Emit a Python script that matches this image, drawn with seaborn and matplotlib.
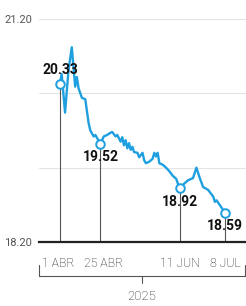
import matplotlib
matplotlib.use("Agg")
import matplotlib.pyplot as plt
from matplotlib.lines import Line2D
from matplotlib.transforms import Affine2D, ScaledTranslation
import pandas as pd
import seaborn as sns

# serie diaria
dates = ["2025-04-01", "2025-04-02", "2025-04-04", "2025-04-06", "2025-04-08",
         "2025-04-10", "2025-04-11", "2025-04-12", "2025-04-14", "2025-04-16",
         "2025-04-18", "2025-04-19", "2025-04-21", "2025-04-22", "2025-04-23",
         "2025-04-25", "2025-04-27", "2025-04-29", "2025-05-01", "2025-05-02",
         "2025-05-04", "2025-05-05", "2025-05-07", "2025-05-08", "2025-05-09",
         "2025-05-10", "2025-05-11", "2025-05-12", "2025-05-13", "2025-05-14",
         "2025-05-15", "2025-05-17", "2025-05-18", "2025-05-20", "2025-05-21",
         "2025-05-22", "2025-05-24", "2025-05-26", "2025-05-27", "2025-05-28",
         "2025-05-29", "2025-05-30", "2025-06-01", "2025-06-03", "2025-06-05",
         "2025-06-07", "2025-06-09", "2025-06-11", "2025-06-14", "2025-06-16",
         "2025-06-19", "2025-06-21", "2025-06-23", "2025-06-25", "2025-06-28",
         "2025-07-01", "2025-07-02", "2025-07-03", "2025-07-06", "2025-07-08"]
values = [20.33, 20.46, 19.94, 20.50, 20.82,
          20.29, 20.42, 20.27, 20.14, 20.12,
          19.80, 19.70, 19.62, 19.64, 19.60,
          19.52, 19.62, 19.64, 19.67, 19.68,
          19.62, 19.64, 19.55, 19.61, 19.50,
          19.57, 19.46, 19.53, 19.44, 19.48,
          19.41, 19.40, 19.34, 19.40, 19.30,
          19.26, 19.28, 19.32, 19.40, 19.35,
          19.40, 19.26, 19.24, 19.20, 19.15,
          19.09, 19.05, 18.92, 18.99, 19.03,
          19.06, 19.20, 19.06, 18.94, 18.90,
          18.81, 18.74, 18.76, 18.66, 18.59]

marked_dates = ["2025-04-01", "2025-04-25", "2025-06-11", "2025-07-08"]
marked_values = [20.33, 19.52, 18.92, 18.59]
marked_labels = ["20.33", "19.52", "18.92", "18.59"]
tick_labels = ["1 ABR", "25 ABR", "11 JUN", "8 JUL"]
y_ticks = [18.2, 19.2, 20.2, 21.2]
y_labels = ["18.20", "", "", "21.20"]
year_label = "2025"

df = pd.DataFrame({"fecha": pd.to_datetime(dates), "valor": values})
pts = pd.DataFrame({"fecha": pd.to_datetime(marked_dates), "valor": marked_values})

sns.set_style("white")
plt.rcParams["font.family"] = ["Roboto", "DejaVu Sans"]

blue = "#1e9fe0"

fig = plt.figure(figsize=(2.46, 3.06), dpi=100)
ax = fig.add_axes([39 / 246, 1 - 242 / 306, 207 / 246, 223 / 306])

# lineas verticales de los puntos marcados
ax.vlines(pts["fecha"], 18.2, pts["valor"], color="#555555", lw=0.8, zorder=2)
sns.lineplot(data=df, x="fecha", y="valor", ax=ax, color=blue, lw=1.7, zorder=3)
sns.scatterplot(data=pts, x="fecha", y="valor", ax=ax, s=38, color="white",
                edgecolor=blue, linewidth=1.4, zorder=4)

for d, v, lab in zip(pts["fecha"], marked_values, marked_labels):
    dy = 9.5 if lab == "20.33" else -9.5
    ax.annotate(lab, (d, v), xytext=(0, dy), textcoords="offset points",
                ha="center", va="center", fontsize=10, fontweight="bold",
                color="#111111", zorder=6)

start = pd.Timestamp("2025-04-01")
ax.set_xlim(start - pd.Timedelta(days=12.47), start + pd.Timedelta(days=110.45))
ax.set_ylim(18.2, 21.2)

ax.set_yticks(y_ticks, y_labels)
ax.set_xticks(pts["fecha"], tick_labels)
ax.tick_params(axis="y", length=0, pad=5, labelsize=8, labelcolor="#555555")
ax.tick_params(axis="x", length=0, pad=11, labelsize=8.8, labelcolor="#1a1a1a")
for t in ax.get_xticklabels():
    t.set_fontweight("light")
# pequenos ajustes de las etiquetas como en el original
shifts = [-1.5, 3.5, 0, 0]
for t, s in zip(ax.get_xticklabels(), shifts):
    t.set_transform(t.get_transform() + ScaledTranslation(s / 100, 0, fig.dpi_scale_trans))
ax.set_xlabel("")
ax.set_ylabel("")

ax.yaxis.grid(True, color="#e4e4e4", lw=0.8)
ax.set_axisbelow(True)
for s in ["top", "right", "left"]:
    ax.spines[s].set_visible(False)
ax.spines["bottom"].set_color("#222222")
ax.spines["bottom"].set_linewidth(1.6)
ax.spines["bottom"].set_zorder(5)

# llave del anio
px = Affine2D().scale(1 / 246, -1 / 306).translate(0, 1) + fig.transFigure
fig.add_artist(Line2D([39, 39, 245, 245], [265, 276, 276, 265], transform=px,
                      color="#555555", lw=0.8))
fig.add_artist(Line2D([142, 142], [276, 283], transform=px, color="#555555", lw=0.8))
fig.text(142, 296, year_label, transform=px, ha="center", va="center",
         fontsize=9.5, fontweight="light", color="#1a1a1a")

fig.savefig("out.png", dpi=100)
